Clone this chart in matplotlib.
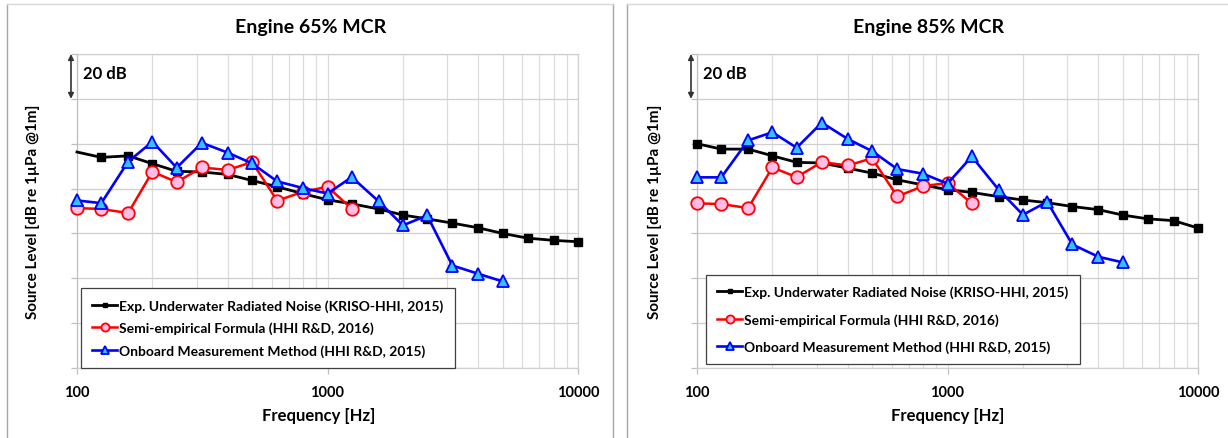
import matplotlib
matplotlib.use("Agg")
import matplotlib.pyplot as plt
from matplotlib.lines import Line2D
from matplotlib.ticker import FixedLocator, NullFormatter, LogLocator, FixedFormatter

plt.rcParams['font.family'] = ['Lato', 'DejaVu Sans']

freq = [100, 125, 160, 200, 250, 315, 400, 500, 630, 800, 1000, 1250,
        1600, 2000, 2500, 3150, 4000, 5000, 6300, 8000, 10000]

# Engine 65% MCR
exp65 = [156.3, 153.9, 154.6, 151.1, 147.7, 147.4, 146.3, 143.6, 140.8, 137.7,
         135.0, 133.2, 130.9, 128.2, 126.5, 124.6, 122.5, 120.0, 117.9, 116.9, 116.3]
semi65 = [131.3, 130.9, 129.1, 147.5, 142.9, 149.4, 148.3, 151.8, 134.6, 138.6,
          140.8, 131.0]
onb65 = [134.7, 133.5, 152.0, 160.9, 149.3, 160.4, 156.0, 151.2, 143.2, 140.2,
         137.8, 145.1, 134.3, 123.6, 128.0, 105.7, 102.0, 98.6]

# Engine 85% MCR
exp85 = [160.0, 157.6, 157.6, 154.6, 151.7, 151.4, 149.1, 146.9, 143.9, 141.6,
         139.5, 138.3, 136.4, 134.9, 133.7, 132.0, 130.6, 128.2, 126.5, 125.7, 122.4]
semi85 = [133.4, 133.1, 131.3, 149.4, 145.1, 151.8, 150.3, 153.5, 136.5, 141.1,
          142.5, 133.4]
onb85 = [145.0, 145.0, 161.5, 165.1, 158.2, 169.4, 162.1, 156.7, 148.7, 146.6,
         142.2, 154.3, 139.5, 128.3, 134.1, 115.1, 109.6, 107.1]

titles = ["Engine 65% MCR", "Engine 85% MCR"]
labels = ["Exp. Underwater Radiated Noise (KRISO-HHI, 2015)",
          "Semi-empirical Formula (HHI R&D, 2016)",
          "Onboard Measurement Method (HHI R&D, 2015)"]
xtick_vals = [100, 1000, 10000]
xtick_labels = ["100", "1000", "10000"]

W, H = 1228, 439
fig = plt.figure(figsize=(W / 100, H / 100), dpi=100)

def fx(px):
    return px / W

def fy(py):
    return 1 - py / H

# panel frames
fig.add_artist(Line2D([fx(7), fx(7)], [0, fy(5)], color='#a6a6a6', lw=1.0))
fig.add_artist(Line2D([fx(613), fx(613)], [0, fy(5)], color='#a6a6a6', lw=1.0))
fig.add_artist(Line2D([fx(7), fx(613)], [fy(5), fy(5)], color='#d9d9d9', lw=1.0))
fig.add_artist(Line2D([fx(627), fx(627)], [0, fy(5)], color='#a6a6a6', lw=1.0))
fig.add_artist(Line2D([fx(627), 1], [fy(5), fy(5)], color='#d9d9d9', lw=1.0))

panels = [
    dict(x0=77, data=(exp65, semi65, onb65), title=titles[0], tcx=311, xlx=319,
         ylx=33, leg_anchor=(0.008, 0.0), lspace=0.72, skipfirst=True),
    dict(x0=697, data=(exp85, semi85, onb85), title=titles[1], tcx=929, xlx=948,
         ylx=655, leg_anchor=(0.018, 0.013), lspace=1.05, skipfirst=False),
]

top_px, bot_px, wpx = 55, 369, 501
for p in panels:
    ax = fig.add_axes([fx(p['x0']), fy(bot_px), wpx / W, (bot_px - top_px) / H])
    ax.set_xscale('log')
    ax.set_xlim(100, 10000)
    ax.set_ylim(60, 200)
    ax.set_yticks(range(60, 201, 20))
    ax.yaxis.set_major_formatter(NullFormatter())
    ax.xaxis.set_major_locator(FixedLocator(xtick_vals))
    ax.xaxis.set_major_formatter(FixedFormatter(xtick_labels))
    ax.xaxis.set_minor_locator(LogLocator(base=10, subs=range(2, 10)))
    ax.xaxis.set_minor_formatter(NullFormatter())
    ax.grid(True, which='major', axis='y', color='#cfcfcf', lw=0.9)
    ax.grid(True, which='both', axis='x', color='#dcdcdc', lw=0.9)
    ax.set_axisbelow(True)
    for s in ax.spines.values():
        s.set_color('#d0d0d0')
        s.set_linewidth(0.9)
    ax.spines['left'].set_color('#bfbfbf')
    ax.tick_params(axis='y', which='both', length=4, color='#bfbfbf', width=0.9)
    ax.tick_params(axis='x', which='major', length=4, color='#bfbfbf', width=0.9,
                   labelsize=10.5, pad=8)
    ax.tick_params(axis='x', which='minor', length=0)
    for t in ax.get_xticklabels():
        t.set_fontweight('bold')

    exp, semi, onb = p['data']
    ax.plot(freq, exp, color='black', lw=2, marker='s', ms=5.5,
            markevery=(slice(1, None) if p['skipfirst'] else None),
            clip_on=False, zorder=3, label=labels[0])
    ax.plot(freq[:len(semi)], semi, color='#ff0000', lw=1.8, marker='o', ms=9,
            mfc='#ffbde8', mec='#ff0000', mew=1.3, clip_on=False, zorder=4,
            label=labels[1])
    ax.plot(freq[:len(onb)], onb, color='#0000ff', lw=1.9, marker='^', ms=9,
            mfc='#33c1ff', mec='#0000ff', mew=1.3, clip_on=False, zorder=5,
            label=labels[2])

    leg = ax.legend(loc='lower left', bbox_to_anchor=p['leg_anchor'],
                    borderaxespad=0, fancybox=False, framealpha=1,
                    edgecolor='#404040', handlelength=1.8, handletextpad=0.15,
                    labelspacing=p['lspace'], markerscale=0.65,
                    prop={'size': 10, 'weight': 'bold'}, borderpad=0.8)
    leg.get_frame().set_linewidth(0.9)
    leg.set_zorder(10)

    # 20 dB scale arrow
    trans = ax.get_yaxis_transform()
    ax.annotate('', xy=(-0.012, 200), xytext=(-0.012, 180), xycoords=trans,
                textcoords=trans,
                arrowprops=dict(arrowstyle='<|-|>', color='#333333', lw=1.2,
                                mutation_scale=8, shrinkA=0, shrinkB=0),
                annotation_clip=False)
    ax.text(0.011, 191.5, '20 dB', transform=trans, fontsize=12,
            fontweight='bold', va='center', ha='left')

    fig.text(fx(p['tcx']), fy(27), p['title'], fontsize=14, fontweight='bold',
             ha='center', va='center')
    fig.text(fx(p['xlx']), fy(416), 'Frequency [Hz]', fontsize=12, fontweight='bold',
             ha='center', va='center')
    fig.text(fx(p['ylx']), fy(212), 'Source Level [dB re 1µPa @1m]', fontsize=11,
             fontweight='bold', ha='center', va='center', rotation=90)

fig.savefig('out.png', dpi=100)
